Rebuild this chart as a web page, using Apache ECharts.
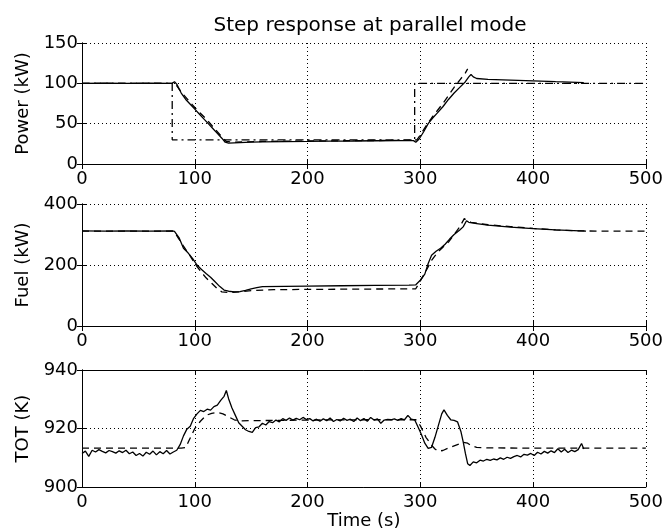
<!DOCTYPE html>
<html>
<head>
<meta charset="utf-8">
<script src="https://cdn.jsdelivr.net/npm/echarts@6/dist/echarts.min.js"></script>
<style>html,body{margin:0;padding:0;background:#fff}#c{width:666px;height:531px}</style>
</head>
<body>
<div id="c"></div>
<script>
// ---------- DATA ----------
var titleText = 'Step response at parallel mode';
var xTicks = [0, 100, 200, 300, 400, 500];
var yNames = ['Power (kW)', 'Fuel (kW)', 'TOT (K)'];
var xName = 'Time (s)';

// Power panel
var powerSetpoint = [[0,100],[80,100],[80,30],[295,30],[295,100],[500,100]];
var powerMeasured = [[0,100],[20,100.2],[40,99.9],[60,100.1],[80,100],[82,102],[84,99],[88,88],[92,80],[96,74],[100,68],[104,62],[108,56],[112,50],[116,44],[120,38],[124,32],[127,27],[130,26],[140,26.5],[150,27],[160,27.5],[180,27.8],[200,28],[220,28.3],[240,28.5],[260,28.8],[280,29],[294,29],[296,27],[299,31],[303,40],[307,50],[311,57],[315,63],[320,71],[325,80],[330,88],[335,95],[340,102],[343,108],[345,111],[347,108],[350,106],[360,105],[380,104],[400,103],[420,102],[445,101]];
var powerModel = [[0,100],[80,100],[82,101],[86,93],[90,86],[95,78],[100,70],[105,63],[110,56],[115,48],[120,40],[125,32],[128,28],[135,27],[160,28],[200,28.5],[250,29],[294,29.5],[297,30],[300,36],[305,47],[310,57],[315,66],[320,75],[325,85],[330,95],[335,104],[340,113],[342,118]];

// Fuel panel
var fuelMeasured = [[0,312],[20,311],[40,312],[60,311],[80,312],[82,310],[86,290],[90,255],[94,240],[98,222],[102,200],[106,185],[110,172],[114,160],[118,145],[122,130],[126,118],[130,114],[135,112],[140,113],[145,117],[150,122],[155,126],[160,129],[180,130],[200,131],[230,132],[260,133],[290,134],[296,135],[300,150],[304,170],[307,205],[310,232],[314,245],[318,255],[322,268],[326,285],[330,300],[335,315],[338,325],[341,345],[343,340],[346,338],[350,336],[360,331],[380,324],[400,319],[420,315],[447,311]];
var fuelModel = [[0,311],[80,311],[82,308],[86,285],[90,262],[95,235],[100,205],[105,180],[110,158],[115,140],[120,122],[124,112],[130,110],[140,112],[150,116],[170,119],[200,120],[250,121],[296,122],[300,148],[305,180],[310,215],[315,240],[320,258],[325,275],[330,300],[335,325],[339,352],[342,345],[345,340],[360,332],[380,326],[400,320],[420,315],[440,312],[460,311],[500,311]];

// TOT panel
var totMeasured = [[0,911.5],[3,912.3],[6,910.5],[9,912.6],[12,912.0],[15,912.8],[18,912.2],[21,911.7],[24,912.5],[27,912.1],[30,911.6],[33,912.4],[36,911.8],[39,912.6],[42,911.4],[45,912.0],[48,910.8],[51,911.5],[54,910.6],[57,911.9],[60,911.2],[63,912.3],[66,911.0],[69,912.1],[72,911.4],[75,912.5],[78,911.3],[81,912.0],[84,912.6],[87,914.5],[90,917.5],[93,919.8],[96,920.8],[99,923.5],[102,925.0],[105,926.2],[108,925.8],[111,926.6],[114,926.3],[117,927.5],[120,928.0],[123,929.6],[126,931.0],[128,933.0],[130,930.2],[133,927.0],[136,924.5],[139,922.0],[142,920.8],[145,919.6],[148,919.0],[151,918.7],[154,920.3],[157,920.6],[160,921.8],[163,921.2],[166,922.4],[169,922.0],[172,922.9],[175,922.3],[178,923.4],[181,922.8],[184,923.6],[187,922.9],[190,923.5],[193,923.0],[196,923.8],[199,923.1],[202,923.4],[205,922.6],[208,923.2],[211,922.5],[214,923.3],[217,922.7],[220,923.6],[223,922.4],[226,923.1],[229,922.6],[232,923.5],[235,922.8],[238,923.2],[241,922.4],[244,923.6],[247,922.7],[250,923.4],[253,922.5],[256,923.8],[259,922.9],[262,923.3],[265,921.8],[268,922.9],[271,923.1],[274,923.0],[277,923.3],[280,922.8],[283,923.4],[286,923.0],[289,924.5],[292,923.2],[295,923.0],[298,920.5],[301,918.0],[304,915.0],[307,913.2],[310,913.6],[313,917.0],[316,921.0],[319,925.0],[321,926.4],[324,924.5],[327,923.0],[330,922.8],[333,922.3],[336,919.0],[338,915.5],[340,911.5],[342,908.0],[344,907.4],[347,908.6],[350,908.3],[353,909.2],[356,908.9],[359,909.5],[362,909.1],[365,909.6],[368,909.3],[371,910.0],[374,909.5],[377,910.2],[380,909.8],[383,910.4],[386,910.8],[389,910.3],[392,911.2],[395,910.9],[398,911.5],[401,910.8],[404,911.9],[407,911.3],[410,912.2],[413,911.6],[416,912.4],[419,911.8],[422,913.1],[425,912.0],[428,912.9],[431,911.8],[434,912.6],[437,912.1],[440,912.8],[443,914.9],[445,913.0]];
var totModel = [[0,913.3],[88,913.3],[92,913.5],[95,916],[100,920],[105,922.5],[110,924.5],[115,925.2],[120,925.5],[125,925],[130,924],[135,923],[140,922.6],[150,922.7],[200,922.9],[250,923],[296,923],[300,921],[305,917],[310,914.3],[313,913],[316,912.3],[320,912.5],[325,913.4],[330,914.1],[335,914.8],[338,915.3],[342,915],[345,914.2],[350,913.6],[360,913.4],[400,913.3],[500,913.3]];

var yRanges = [[0,150,50],[0,400,200],[900,940,20]];

// ---------- CHART ----------
var FONT = '"DejaVu Sans", "Liberation Sans", Arial, sans-serif';
var grids = [
  {left:82, right:18, top:43, height:121},
  {left:82, right:18, top:204, height:122},
  {left:82, right:18, top:370, height:119}
];
var xAxes = [], yAxes = [];
for (var i = 0; i < 3; i++) {
  xAxes.push({
    gridIndex:i, type:'value', min:xTicks[0], max:xTicks[xTicks.length-1], interval:100, position:'bottom',
    axisLine:{show:true, lineStyle:{color:'#000', width:1}},
    axisTick:{show:true, inside:true, length:5, lineStyle:{color:'#000'}},
    axisLabel:{color:'#000', fontSize:18, fontFamily:FONT, margin:6},
    splitLine:{show:true, lineStyle:{color:'#000', width:1, type:[1,3]}},
    name: i === 2 ? xName : '', nameLocation:'middle', nameGap:23,
    nameTextStyle:{color:'#000', fontSize:18, fontFamily:FONT}
  });
  xAxes.push({
    gridIndex:i, type:'value', min:0, max:500, interval:100, position:'top',
    axisLine:{show:true, lineStyle:{color:'#000', width:1}},
    axisTick:{show:true, inside:true, length:5, lineStyle:{color:'#000'}},
    axisLabel:{show:false}, splitLine:{show:false}
  });
  yAxes.push({
    gridIndex:i, type:'value', min:yRanges[i][0], max:yRanges[i][1], interval:yRanges[i][2], position:'left',
    axisLine:{show:true, lineStyle:{color:'#000', width:1}},
    axisTick:{show:true, inside:true, length:5, lineStyle:{color:'#000'}},
    axisLabel:{color:'#000', fontSize:18, fontFamily:FONT, margin:4},
    splitLine:{show:true, lineStyle:{color:'#000', width:1, type:[1,3]}},
    name:yNames[i], nameLocation:'middle', nameGap:46, nameRotate:90,
    nameTextStyle:{color:'#000', fontSize:18, fontFamily:FONT}
  });
  yAxes.push({
    gridIndex:i, type:'value', min:yRanges[i][0], max:yRanges[i][1], interval:yRanges[i][2], position:'right',
    axisLine:{show:true, lineStyle:{color:'#000', width:1}},
    axisTick:{show:true, inside:true, length:5, lineStyle:{color:'#000'}},
    axisLabel:{show:false}, splitLine:{show:false}
  });
}
function line(data, xi, yi, type) {
  return {type:'line', data:data, xAxisIndex:xi, yAxisIndex:yi, showSymbol:false, symbol:'none',
    silent:true, animation:false, lineStyle:{color:'#000', width:1.3, type:type}};
}
var option = {
  backgroundColor:'#fff',
  animation:false,
  title:{text:titleText, left:365, top:11, textAlign:'center',
    textStyle:{color:'#000', fontSize:20, fontWeight:'normal', fontFamily:FONT}},
  grid:grids,
  xAxis:xAxes,
  yAxis:yAxes,
  series:[
    line(powerSetpoint, 0, 0, [8,4,2,4]),
    line(powerModel, 0, 0, [7,5]),
    line(powerMeasured, 0, 0, 'solid'),
    line(fuelModel, 2, 2, [7,5]),
    line(fuelMeasured, 2, 2, 'solid'),
    line(totModel, 4, 4, [7,5]),
    line(totMeasured, 4, 4, 'solid')
  ]
};
var chart = echarts.init(document.getElementById('c'), null, {renderer:'canvas'});
chart.setOption(option);
</script>
</body>
</html>
